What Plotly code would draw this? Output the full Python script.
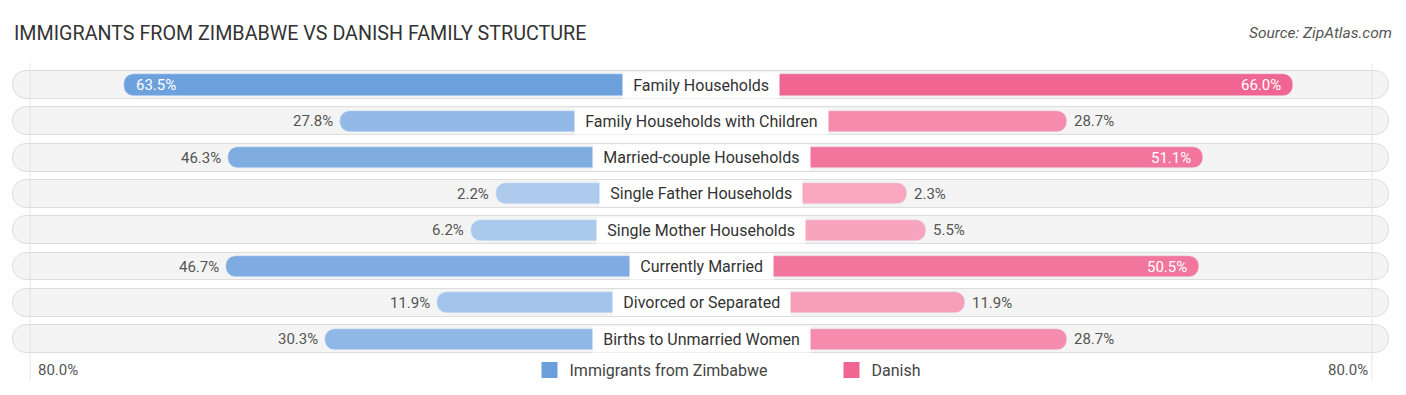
import plotly.graph_objects as go

categories = ["Family Households", "Family Households with Children", "Married-couple Households",
              "Single Father Households", "Single Mother Households", "Currently Married",
              "Divorced or Separated", "Births to Unmarried Women"]
zimbabwe = [63.5, 27.8, 46.3, 2.2, 6.2, 46.7, 11.9, 30.3]
danish = [66.0, 28.7, 51.1, 2.3, 5.5, 50.5, 11.9, 28.7]
series_names = ["Immigrants from Zimbabwe", "Danish"]
axis_max = 80.0

OFF = 31.7          # visual offset of bars from the centre label (in % units)
PXU = 6.06          # px per % unit
W, H = 1406, 395
CX = 701
ROW0, PITCH = 85, 36.3

def blend(c0, c1, t):
    t = max(0.0, min(1.0, t))
    return "rgb(%d,%d,%d)" % tuple(round(a + (b - a) * t) for a, b in zip(c0, c1))

blue_lo, blue_hi = (176, 205, 239), (106, 159, 220)
pink_lo, pink_hi = (249, 170, 194), (240, 101, 146)
zcol = [blend(blue_lo, blue_hi, v / 66) for v in zimbabwe]
dcol = [blend(pink_lo, pink_hi, v / 66) for v in danish]

ys = list(range(len(categories)))
xmin = -CX / PXU
xmax = (W - CX) / PXU
bg_left = (13 - CX) / PXU
bg_right = (1389 - CX) / PXU

fig = go.Figure()
fig.add_trace(go.Bar(
    y=ys, x=[bg_right - bg_left] * len(ys), base=[bg_left] * len(ys), orientation="h",
    width=0.77, marker=dict(color="#f4f4f4", line=dict(color="#dddddd", width=1), cornerradius=14),
    showlegend=False, hoverinfo="skip"))
fig.add_trace(go.Bar(
    y=ys, x=[-(v + OFF) for v in zimbabwe], base=0, orientation="h", width=0.58,
    marker=dict(color=zcol, cornerradius=10), name=series_names[0], hoverinfo="skip",
    showlegend=False))
fig.add_trace(go.Bar(
    y=ys, x=[v + OFF for v in danish], base=0, orientation="h", width=0.58,
    marker=dict(color=dcol, cornerradius=10), name=series_names[1], hoverinfo="skip",
    showlegend=False))
# legend entries
for nm, col in zip(series_names, ["#6a9fdc", "#f06592"]):
    fig.add_trace(go.Scatter(x=[None], y=[None], mode="markers", name=nm,
                             marker=dict(symbol="square", size=17, color=col), showlegend=True))

NB = "\u00a0\u2009"
ann = []
for i, (c, zv, dv) in enumerate(zip(categories, zimbabwe, danish)):
    ann.append(dict(x=0, y=i, text=NB + c + NB, showarrow=False, bgcolor="white", borderpad=3,
                    font=dict(size=16, color="#333333")))
    if zv >= 50:
        ann.append(dict(x=-(zv + OFF), y=i, text=f"{zv:.1f}%", xanchor="left", xshift=10,
                        showarrow=False, font=dict(size=15, color="white")))
    else:
        ann.append(dict(x=-(zv + OFF), y=i, text=f"{zv:.1f}%", xanchor="right", xshift=-5,
                        showarrow=False, font=dict(size=15, color="#555555")))
    if dv >= 50:
        ann.append(dict(x=dv + OFF, y=i, text=f"{dv:.1f}%", xanchor="right", xshift=-10,
                        showarrow=False, font=dict(size=15, color="white")))
    else:
        ann.append(dict(x=dv + OFF, y=i, text=f"{dv:.1f}%", xanchor="left", xshift=5,
                        showarrow=False, font=dict(size=15, color="#555555")))

yleg = (370 - ROW0) / PITCH
ann.append(dict(x=-(axis_max + OFF), y=yleg, text=f"{axis_max:.1f}%", xanchor="left", xshift=12,
                showarrow=False, font=dict(size=15, color="#555555")))
ann.append(dict(x=axis_max + OFF, y=yleg, text=f"{axis_max:.1f}%", xanchor="right", xshift=-8,
                showarrow=False, font=dict(size=15, color="#555555")))
ann.append(dict(xref="paper", yref="paper", x=12 / W, y=1 - 33 / H, xanchor="left", yanchor="middle",
                text="IMMIGRANTS FROM ZIMBABWE VS DANISH FAMILY STRUCTURE", showarrow=False,
                font=dict(size=19.7, color="#333333")))
ann.append(dict(xref="paper", yref="paper", x=1394 / W, y=1 - 33 / H, xanchor="right", yanchor="middle",
                text="<i>Source: ZipAtlas.com</i>", showarrow=False,
                font=dict(size=15.5, color="#555555")))

shapes = []
for gx in (-(axis_max + OFF) + 1.0, axis_max + OFF - 1.0):
    shapes.append(dict(type="line", x0=gx, x1=gx, y0=(63 - ROW0) / PITCH, y1=(380 - ROW0) / PITCH,
                       line=dict(color="#e4e4e4", width=1), layer="above"))

fig.update_layout(
    width=W, height=H, margin=dict(l=0, r=0, t=0, b=0),
    paper_bgcolor="white", plot_bgcolor="white",
    barmode="overlay", bargap=0,
    font=dict(family="Roboto, 'Noto Sans', sans-serif"),
    xaxis=dict(range=[xmin, xmax], visible=False, fixedrange=True),
    yaxis=dict(range=[(H - ROW0) / PITCH, -ROW0 / PITCH], visible=False, fixedrange=True),
    annotations=ann, shapes=shapes,
    legend=dict(orientation="h", x=(551.5 - 22) / W, xanchor="left", y=1 - 370 / H, yanchor="middle",
                font=dict(size=16, color="#444444"), itemwidth=30, traceorder="normal",
                entrywidth=257, entrywidthmode="pixels"),
    hovermode=False,
)
fig.write_html("out.html", config={"displayModeBar": False},
               post_script="document.body.style.margin='0';")
